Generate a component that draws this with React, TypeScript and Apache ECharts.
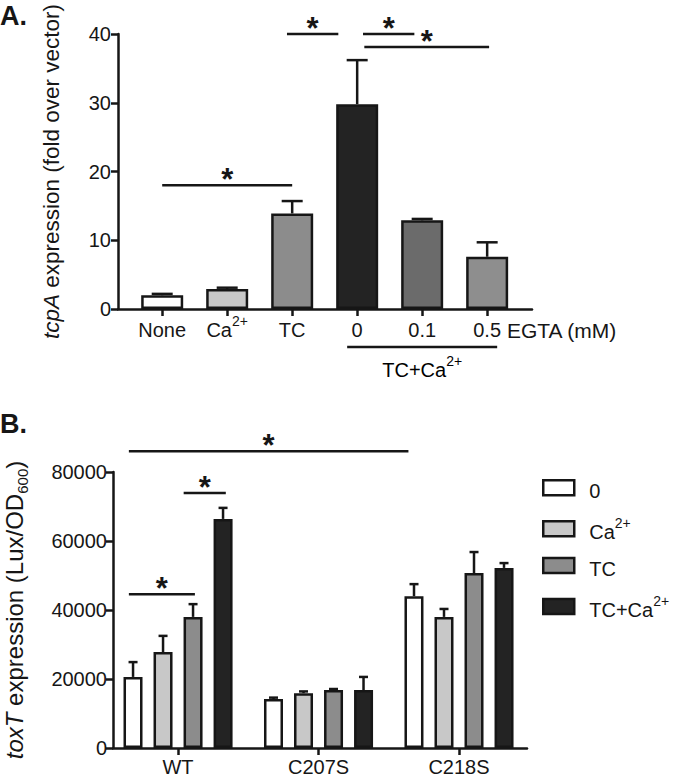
import React, { useEffect, useRef } from "react";
import * as echarts from "echarts";

// ---------- Data ----------
const catsA = ["None", "Ca2+", "TC", "0", "0.1", "0.5"];
const meanA = [2.0, 2.9, 13.9, 29.8, 12.9, 7.6];
const errA = [0.2, 0.2, 1.8, 6.4, 0.2, 2.1];
const colorsA = ["#ffffff", "#c8c8c8", "#8c8c8c", "#232323", "#6b6b6b", "#8e8e8e"];
// significance brackets A: [from, to, y]
const sigA = [
  [0, 2, 18],
  [1.92, 2.71, 40],
  [3.09, 3.88, 40],
  [3.11, 5.03, 38.1],
];
const groupA = [[2.846, 5.154, -5.53]];

const groupsB = ["WT", "C207S", "C218S"];
const seriesB = ["0", "Ca2+", "TC", "TC+Ca2+"];
const mean0 = [20600, 14200, 44000];
const err0 = [4300, 400, 3500];
const meanCa = [27800, 15900, 38000];
const errCa = [4700, 500, 2300];
const meanTC = [38000, 16800, 50700];
const errTC = [3700, 300, 6100];
const meanTCCa = [66400, 16800, 52200];
const errTCCa = [3200, 3800, 1400];
const colorsB = ["#ffffff", "#c8c8c8", "#8c8c8c", "#232323"];
const sigB = [
  [-0.35, 1.64, 86000],
  [0.04, 0.34, 73900],
  [-0.35, 0.12, 44600],
];

const FONT = "Liberation Sans, Arial, sans-serif";
const INK = "#161616";

const richLabel = {
  t: { fontSize: 20, lineHeight: 26, verticalAlign: "bottom", fontFamily: FONT, color: INK },
  sup: { fontSize: 14, lineHeight: 14, verticalAlign: "top", fontFamily: FONT, color: INK },
};
const toRich = (s: string) =>
  s.endsWith("2+") ? `{t|${s.slice(0, -2)}}{sup|2+}` : `{t|${s}}`;

export default function App() {
  const ref = useRef<HTMLDivElement>(null);
  useEffect(() => {
    if (!ref.current) return;
    const chart = echarts.init(ref.current, undefined, { renderer: "svg" });
    const meansB = [mean0, meanCa, meanTC, meanTCCa];
    const errsB = [err0, errCa, errTC, errTCCa];

    const errorSeries = (xi: number, yi: number, data: number[][], cap: number, lw: number, offset: number) => ({
      type: "custom",
      xAxisIndex: xi,
      yAxisIndex: yi,
      z: 5,
      silent: true,
      data,
      encode: { x: 0, y: [1, 2] },
      renderItem: (_p: any, api: any) => {
        const x = api.value(0);
        const p0 = api.coord([x, api.value(1)]);
        const p1 = api.coord([x, api.value(2)]);
        const cx = p0[0] + offset;
        return {
          type: "group",
          children: [
            { type: "line", shape: { x1: cx, y1: p0[1], x2: cx, y2: p1[1] }, style: { stroke: INK, lineWidth: lw } },
            { type: "line", shape: { x1: cx - cap / 2, y1: p1[1], x2: cx + cap / 2, y2: p1[1] }, style: { stroke: INK, lineWidth: lw } },
          ],
        };
      },
    });

    const sigSeries = (xi: number, yi: number, data: number[][]) => ({
      type: "custom",
      xAxisIndex: xi,
      yAxisIndex: yi,
      z: 6,
      silent: true,
      clip: false,
      data,
      encode: { x: [0, 1], y: 2 },
      renderItem: (_p: any, api: any) => {
        const a = api.coord([api.value(0), api.value(2)]);
        const b = api.coord([api.value(1), api.value(2)]);
        return {
          type: "group",
          children: [
            { type: "line", shape: { x1: a[0], y1: a[1], x2: b[0], y2: a[1] }, style: { stroke: INK, lineWidth: 2.5 } },
            {
              type: "text",
              x: (a[0] + b[0]) / 2,
              y: a[1] - 6,
              style: { text: "*", fontSize: 31, fontWeight: "bold", fontFamily: FONT, fill: INK, align: "center", verticalAlign: "middle" },
            },
          ],
        };
      },
    });

    const option: any = {
      animation: false,
      backgroundColor: "#ffffff",
      textStyle: { fontFamily: FONT },
      grid: [
        { left: 118, width: 414, top: 34, height: 275, outerBoundsMode: "none", containLabel: false },
        { left: 113, width: 414, top: 472, height: 276, outerBoundsMode: "none", containLabel: false },
      ],
      xAxis: [
        {
          type: "value",
          gridIndex: 0,
          min: -0.68,
          max: 5.69,
          splitLine: { show: false },
          axisLine: { show: true, onZero: false, lineStyle: { color: INK, width: 2.5 } },
          axisTick: { show: true, customValues: [0, 1, 2, 3, 4, 5], length: 7, lineStyle: { color: INK, width: 2.5 } },
          axisLabel: {
            customValues: [0, 1, 2, 3, 4, 5],
            margin: 5,
            formatter: (v: number) => toRich(catsA[Math.round(v)]),
            rich: richLabel,
          },
        },
        {
          type: "value",
          gridIndex: 1,
          min: -0.463,
          max: 2.484,
          splitLine: { show: false },
          axisLine: { show: true, onZero: false, lineStyle: { color: INK, width: 2.5 } },
          axisTick: { show: true, customValues: [0, 1, 2], length: 7, lineStyle: { color: INK, width: 2.5 } },
          axisLabel: {
            customValues: [0, 1, 2],
            margin: 9,
            fontSize: 20,
            color: INK,
            fontFamily: FONT,
            formatter: (v: number) => groupsB[Math.round(v)],
          },
        },
      ],
      yAxis: [
        {
          type: "value",
          gridIndex: 0,
          min: 0,
          max: 40,
          interval: 10,
          splitLine: { show: false },
          axisLine: { show: true, onZero: false, lineStyle: { color: INK, width: 2.5 } },
          axisTick: { show: true, length: 7, lineStyle: { color: INK, width: 2.5 } },
          axisLabel: { fontSize: 20, color: INK, fontFamily: FONT, margin: 7 },
          name: "{i|tcpA}{t| expression (fold over vector)}",
          nameLocation: "middle",
          nameGap: 51,
          nameRotate: 90,
          nameMoveOverlap: false,
          nameTruncate: { maxWidth: 336 },
          nameTextStyle: {
            rich: {
              i: { fontSize: 22.5, lineHeight: 27, verticalAlign: "top", fontStyle: "italic", fontFamily: FONT, color: INK },
              t: { fontSize: 22.5, lineHeight: 27, verticalAlign: "top", fontFamily: FONT, color: INK },
            },
          },
        },
        {
          type: "value",
          gridIndex: 1,
          min: 0,
          max: 80000,
          interval: 20000,
          splitLine: { show: false },
          axisLine: { show: true, onZero: false, lineStyle: { color: INK, width: 2.5 } },
          axisTick: { show: true, length: 7, lineStyle: { color: INK, width: 2.5 } },
          axisLabel: { fontSize: 20, color: INK, fontFamily: FONT, margin: 6, formatter: (v: number) => String(v) },
          name: "{i|toxT}{t| expression (Lux/OD}{sub|600}{t|)}",
          nameLocation: "middle",
          nameGap: 83,
          nameRotate: 90,
          nameMoveOverlap: false,
          nameTruncate: { maxWidth: 302 },
          nameTextStyle: {
            rich: {
              i: { fontSize: 24, lineHeight: 28, verticalAlign: "top", fontStyle: "italic", fontFamily: FONT, color: INK },
              t: { fontSize: 24, lineHeight: 28, verticalAlign: "top", fontFamily: FONT, color: INK },
              sub: { fontSize: 15, lineHeight: 15, verticalAlign: "bottom", fontFamily: FONT, color: INK },
            },
          },
        },
      ],
      legend: {
        show: true,
        data: seriesB,
        orient: "vertical",
        left: 542,
        top: 479,
        padding: 0,
        itemGap: 15,
        itemWidth: 31,
        itemHeight: 15,
        icon: "rect",
        itemStyle: { borderColor: INK, borderWidth: 2.5 },
        formatter: (n: string) => toRich(n),
        textStyle: {
          rich: {
            t: { ...richLabel.t, padding: [0, 0, 0, 10] },
            sup: richLabel.sup,
          },
        },
      },
      series: [
        {
          type: "bar",
          name: "A",
          xAxisIndex: 0,
          yAxisIndex: 0,
          barWidth: 42,
          data: meanA.map((m, i) => ({ value: [i, m], itemStyle: { color: colorsA[i] } })),
          itemStyle: { borderColor: INK, borderWidth: 2.5 },
        },
        errorSeries(0, 0, meanA.map((m, i) => [i, m, m + errA[i]]), 21, 2.5, 0),
        sigSeries(0, 0, sigA),
        {
          type: "custom",
          xAxisIndex: 0,
          yAxisIndex: 0,
          silent: true,
          clip: false,
          data: groupA,
          encode: { x: [0, 1], y: 2 },
          renderItem: (_p: any, api: any) => {
            const a = api.coord([api.value(0), api.value(2)]);
            const b = api.coord([api.value(1), api.value(2)]);
            return {
              type: "group",
              children: [
                { type: "line", shape: { x1: a[0], y1: a[1], x2: b[0], y2: a[1] }, style: { stroke: INK, lineWidth: 2.5 } },
                {
                  type: "text",
                  x: (a[0] + b[0]) / 2,
                  y: a[1] + 7,
                  style: { text: toRich("TC+Ca2+"), rich: richLabel, align: "center", verticalAlign: "top" },
                },
              ],
            };
          },
        },
        ...seriesB.map((name, k) => ({
          type: "bar",
          name,
          xAxisIndex: 1,
          yAxisIndex: 1,
          barWidth: 19,
          barGap: "58%",
          data: meansB[k].map((m, g) => [g, m]),
          itemStyle: { color: colorsB[k], borderColor: INK, borderWidth: 2.5 },
        })),
        ...seriesB.map((_n, k) =>
          errorSeries(1, 1, meansB[k].map((m, g) => [g, m, m + errsB[k][g]]), 9, 2.5, (k - 1.5) * 30)
        ),
        sigSeries(1, 1, sigB),
      ],
      graphic: [
        { type: "text", left: 0, top: 2, style: { text: "A.", fontSize: 27, fontWeight: "bold", fontFamily: FONT, fill: INK } },
        { type: "text", left: 0, top: 410, style: { text: "B.", fontSize: 27, fontWeight: "bold", fontFamily: FONT, fill: INK } },
        { type: "text", left: 507, top: 320, style: { text: "EGTA (mM)", fontSize: 21, fontFamily: FONT, fill: INK } },
      ],
    };
    chart.setOption(option);
    return () => chart.dispose();
  }, []);
  return (
    <div
      ref={ref}
      style={{ position: "absolute", left: 0, top: 0, width: 680, height: 779, background: "#fff" }}
    />
  );
}
